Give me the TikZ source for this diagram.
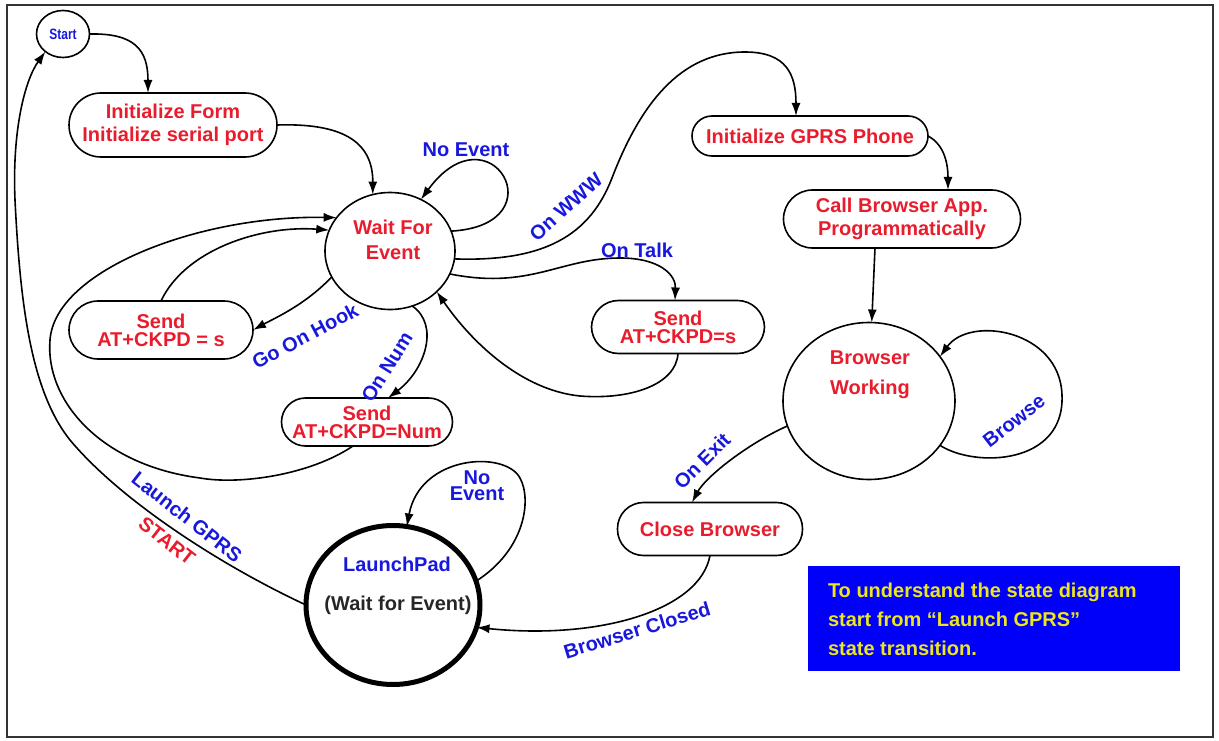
\documentclass[tikz,border=0pt]{standalone}
\usepackage{fontspec}
\setmainfont{Liberation Sans}
\usetikzlibrary{arrows.meta,shapes.geometric}
\definecolor{tred}{RGB}{232,28,44}
\definecolor{tblue}{RGB}{24,24,220}
\definecolor{tyel}{RGB}{236,230,30}
\definecolor{boxblue}{RGB}{0,0,250}
\begin{document}
\begin{tikzpicture}[x=1pt,y=-1pt,
  every node/.style={inner sep=0pt,outer sep=0pt},
  statebox/.style={draw=black,line width=1.6pt,rectangle,rounded corners=#1},
  stateell/.style={draw=black,line width=1.6pt,ellipse},
  redtxt/.style={text=tred,font=\fontsize{20}{23}\selectfont\bfseries,align=center},
  sendtxt/.style={text=tred,font=\fontsize{20}{18}\selectfont\bfseries,align=center},
  lbl/.style={text=tblue,font=\fontsize{20}{16}\selectfont\bfseries,align=center},
  conn/.style={line width=1.6pt,-{Latex[length=13pt,width=9pt]}}]
\useasboundingbox (0,0) rectangle (1219,741);
\draw[line width=1.5pt,black!80] (7,5) rectangle (1213,737);

% states
\node[stateell,minimum width=53pt,minimum height=47pt,text=tblue,font=\fontsize{15}{16}\selectfont\bfseries] (start) at (63,34) {\scalebox{0.8}[1]{Start}};
\node[statebox=32pt,minimum width=208pt,minimum height=64pt,redtxt] (init) at (173,125) {Initialize Form\\Initialize serial port};
\node[stateell,minimum width=130pt,minimum height=117pt] (wait) at (390,251) {};
\node[redtxt,font=\fontsize{20}{25}\selectfont\bfseries] (waittxt) at (393,240) {Wait For\\Event};
\node[statebox=29pt,minimum width=184pt,minimum height=58pt,sendtxt] (sendL) at (161,330) {Send\\AT+CKPD = s};
\node[statebox=24pt,minimum width=171pt,minimum height=48pt,sendtxt] (sendN) at (367,422) {Send\\AT+CKPD=Num};
\node[statebox=27pt,minimum width=173pt,minimum height=53pt,sendtxt] (sendR) at (678,327) {Send\\AT+CKPD=s};
\node[statebox=20pt,minimum width=236pt,minimum height=40pt,redtxt] (gprs) at (810,136) {Initialize GPRS Phone};
\node[statebox=29pt,minimum width=237pt,minimum height=58pt,redtxt] (call) at (902,219) {Call Browser App.\\Programmatically};
\node[stateell,minimum width=172pt,minimum height=157pt] (bw) at (869,401) {};
\node[redtxt,font=\fontsize{20}{30}\selectfont\bfseries] (bwtxt) at (870,375) {Browser\\Working};
\node[statebox=26pt,minimum width=185pt,minimum height=53pt,redtxt] (close) at (710,529) {Close Browser};
\node[ellipse,draw=black,line width=5pt,minimum width=174pt,minimum height=159pt] (lp) at (393,605) {};
\node[text=tblue,font=\fontsize{20}{22}\selectfont\bfseries] (lptxt) at (397,564) {LaunchPad};
\node[text=black!85,font=\fontsize{20}{22}\selectfont\bfseries] (lpwait) at (398,605) {(Wait for Event)};

% note box
\node[fill=boxblue,minimum width=372pt,minimum height=105pt] (note) at (994,618) {};
\node[anchor=west,text=tyel,align=left,font=\fontsize{20}{29}\selectfont\bfseries] (notetxt) at (828,619) {To understand the state diagram\\start from “Launch GPRS”\\state transition.};

% connectors
\draw[conn] (start.east) .. controls (135,33) and (148,50) .. ([xshift=-25pt]init.north);
\draw[conn] (init.east) .. controls (340,123) and (373,140) .. (wait.107);
\draw[conn] (wait.18) .. controls (560,225) and (490,105) .. (wait.59);
\draw[conn] (wait.-7) .. controls (545,262) and (590,235) .. (612,178) .. controls (640,105) and (680,52) .. (745,52) .. controls (787,52) and (796,75) .. ([xshift=-14pt]gprs.north);
\draw[conn] (wait.-21) .. controls (530,290) and (560,258) .. (620,258) .. controls (660,258) and (676,275) .. ([xshift=-3pt]sendR.north);
\draw[conn] (sendR.south) .. controls (676,385) and (630,400) .. (580,396) .. controls (520,390) and (470,340) .. (wait.-41);
\draw[conn] ([xshift=-14pt]sendN.south) .. controls (310,475) and (240,485) .. (200,478) .. controls (100,465) and (45,400) .. (50,340) .. controls (55,270) and (200,215) .. (wait.148);
\draw[conn] (sendL.north) .. controls (185,250) and (260,225) .. (wait.161);
\draw[conn] (wait.204) .. controls (305,305) and (275,318) .. (sendL.east);
\draw[conn] (wait.292) .. controls (440,325) and (425,370) .. ([xshift=21pt]sendN.north);
\draw[conn] (gprs.east) .. controls (945,145) and (948,165) .. ([xshift=46pt]call.north);
\draw[conn] ([xshift=-27pt]call.south) -- (bw.88);
\draw[conn] (bw.-32) .. controls (975,468) and (1065,465) .. (1062,395) .. controls (1060,330) and (970,315) .. (bw.32);
\draw[conn] (bw.197) .. controls (745,445) and (705,478) .. ([xshift=-18pt]close.north);
\draw[conn] (close.south) .. controls (700,610) and (600,640) .. (lp.-15);
\draw[conn] (lp.16) .. controls (525,550) and (532,500) .. (520,478) .. controls (505,450) and (420,455) .. (lp.80);
\draw[conn] (lp.west) .. controls (220,565) and (120,500) .. (70,440) .. controls (30,390) and (20,300) .. (15,200) .. controls (12,130) and (25,80) .. (start.225);

% labels
\node[lbl] (lNoEv) at (466,150) {No Event};
\node[lbl,rotate=42] (lWWW) at (566,207) {On WWW};
\node[lbl] (lTalk) at (637,250) {On Talk};
\node[lbl,rotate=28] (lHook) at (305,336) {Go On Hook};
\node[lbl,rotate=58] (lNum) at (387,367) {On Num};
\node[lbl,rotate=38] (lBrowse) at (1014,421) {Browse};
\node[lbl,rotate=45] (lExit) at (702,461) {On Exit};
\node[lbl,rotate=17] (lClosed) at (637,630) {Browser Closed};
\node[lbl] (lNoEv2) at (477,486) {No\\Event};
\node[lbl,rotate=-38] (lLaunch) at (187,517) {Launch GPRS};
\node[text=tred,font=\fontsize{20}{22}\selectfont\bfseries,rotate=-38] (lStart) at (167,541) {START};
\end{tikzpicture}
\end{document}
